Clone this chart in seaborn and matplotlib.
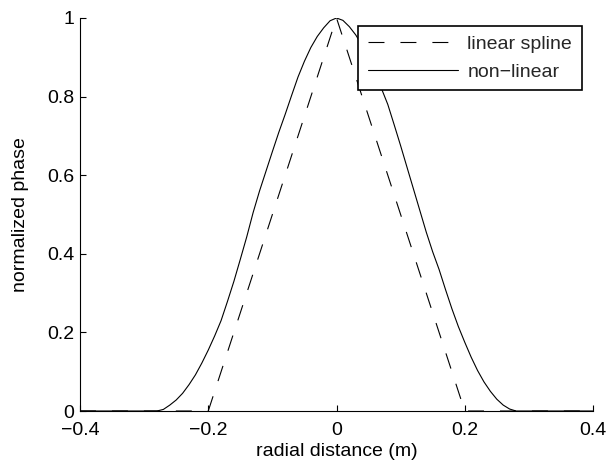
import matplotlib
matplotlib.use("Agg")
import matplotlib.pyplot as plt
import seaborn as sns
import pandas as pd

# ---- data ----
x_linear = [-0.40, -0.20, 0.00, 0.20, 0.40]
y_linear = [0.00, 0.00, 1.00, 0.00, 0.00]

x_nonlinear = [-0.40, -0.28, -0.27, -0.26, -0.25, -0.24, -0.23, -0.22, -0.21,
               -0.20, -0.19, -0.18, -0.17, -0.16, -0.15, -0.14, -0.13, -0.12,
               -0.11, -0.10, -0.09, -0.08, -0.07, -0.06, -0.05, -0.04, -0.03,
               -0.02, -0.01, 0.00, 0.01, 0.02, 0.03, 0.04, 0.05, 0.06, 0.07,
               0.08, 0.09, 0.10, 0.11, 0.12, 0.13, 0.14, 0.15, 0.16, 0.17,
               0.18, 0.19, 0.20, 0.21, 0.22, 0.23, 0.24, 0.25, 0.26, 0.27,
               0.28, 0.40]
y_nonlinear = [0.000, 0.000, 0.004, 0.015, 0.028, 0.045, 0.067, 0.092, 0.122,
               0.155, 0.191, 0.230, 0.279, 0.330, 0.386, 0.443, 0.505, 0.560,
               0.610, 0.660, 0.709, 0.755, 0.803, 0.850, 0.890, 0.925, 0.953,
               0.975, 0.993, 1.000, 0.994, 0.978, 0.957, 0.930, 0.897, 0.860,
               0.821, 0.780, 0.728, 0.675, 0.620, 0.565, 0.510, 0.455, 0.405,
               0.360, 0.309, 0.260, 0.215, 0.175, 0.137, 0.103, 0.074, 0.050,
               0.030, 0.015, 0.005, 0.000, 0.000]

series_names = ["linear spline", "non\u2212linear"]
x_ticks = [-0.4, -0.2, 0, 0.2, 0.4]
x_tick_labels = ["\u22120.4", "\u22120.2", "0", "0.2", "0.4"]
y_ticks = [0, 0.2, 0.4, 0.6, 0.8, 1]
y_tick_labels = ["0", "0.2", "0.4", "0.6", "0.8", "1"]

df = pd.concat([
    pd.DataFrame({"x": x_linear, "y": y_linear, "series": series_names[0]}),
    pd.DataFrame({"x": x_nonlinear, "y": y_nonlinear, "series": series_names[1]}),
], ignore_index=True)

sns.set_style("ticks")
plt.rcParams["font.family"] = ["Liberation Sans", "DejaVu Sans"]
plt.rcParams["lines.scale_dashes"] = False
plt.rcParams["xtick.direction"] = "in"
plt.rcParams["ytick.direction"] = "in"

FS = 14

fig = plt.figure(figsize=(6.07, 4.69), dpi=100)
ax = fig.add_axes([80 / 607, 58 / 469, 513 / 607, 393 / 469])

sns.lineplot(data=df, x="x", y="y", style="series", hue="series",
             palette={series_names[0]: "black", series_names[1]: "black"},
             dashes={series_names[0]: (11.5, 11.5), series_names[1]: ""},
             linewidth=0.8, sort=False, estimator=None, ax=ax)

ax.set_xlim(-0.4, 0.4)
ax.set_ylim(0, 1)
ax.set_xticks(x_ticks)
ax.set_xticklabels(x_tick_labels)
ax.set_yticks(y_ticks)
ax.set_yticklabels(y_tick_labels)
ax.tick_params(axis="both", labelsize=FS, length=4, width=0.8, color="black",
               labelcolor="black")
ax.tick_params(axis="x", pad=8)
ax.tick_params(axis="y", pad=4)
ax.set_xlabel("radial distance (m)", fontsize=FS, color="black", labelpad=3)
ax.set_ylabel("normalized phase", fontsize=FS, color="black", labelpad=13)

for s in ["top", "right"]:
    ax.spines[s].set_visible(False)
for s in ["left", "bottom"]:
    ax.spines[s].set_color("black")
    ax.spines[s].set_linewidth(0.8)

leg = ax.legend(loc="upper right", bbox_to_anchor=(0.978, 0.980),
                borderaxespad=0, fontsize=FS, frameon=True, fancybox=False,
                handlelength=4.6, handletextpad=0.5, labelspacing=0.5,
                borderpad=0.5)
leg.get_frame().set_edgecolor("black")
leg.get_frame().set_linewidth(1.2)
leg.get_frame().set_alpha(1)

fig.savefig("out.png", dpi=100)
